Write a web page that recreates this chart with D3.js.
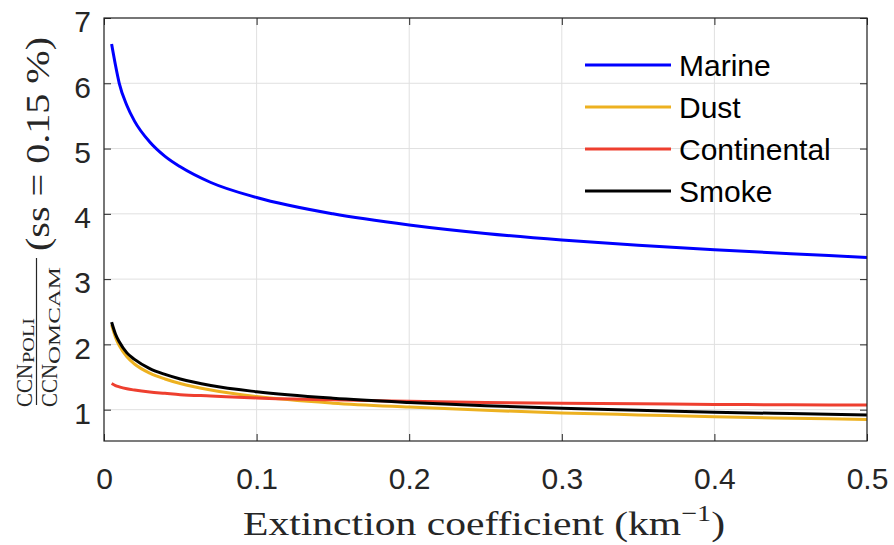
<!DOCTYPE html>
<html><head><meta charset="utf-8">
<script src="https://cdn.jsdelivr.net/npm/d3@7"></script>
<style>body{margin:0;background:#fff}svg{display:block}</style>
</head><body><svg id="c" width="894" height="545"></svg>
<script>
const xValues     = [0.005, 0.0075, 0.01, 0.015, 0.02, 0.03, 0.04, 0.05, 0.07, 0.1, 0.15, 0.2, 0.25, 0.3, 0.35, 0.4, 0.45, 0.5];
const marine      = [6.60, 6.28, 6.00, 5.66, 5.42, 5.10, 4.88, 4.72, 4.48, 4.25, 4.00, 3.83, 3.70, 3.60, 3.52, 3.45, 3.39, 3.33];
const dust        = [2.30, 2.11, 1.98, 1.81, 1.70, 1.56, 1.47, 1.40, 1.30, 1.20, 1.10, 1.04, 0.99, 0.95, 0.92, 0.89, 0.87, 0.85];
const continental = [1.40, 1.37, 1.35, 1.32, 1.30, 1.27, 1.25, 1.23, 1.21, 1.18, 1.15, 1.13, 1.11, 1.10, 1.09, 1.08, 1.075, 1.07];
const smoke       = [2.34, 2.16, 2.04, 1.87, 1.77, 1.63, 1.54, 1.47, 1.37, 1.275, 1.175, 1.11, 1.06, 1.02, 0.99, 0.96, 0.94, 0.92];
const seriesNames  = ["Marine", "Dust", "Continental", "Smoke"];
const seriesColors = ["#0000ff", "#edb120", "#ee3f2f", "#000000"];
const xTicks      = [0, 0.1, 0.2, 0.3, 0.4, 0.5];
const xTickLabels = ["0", "0.1", "0.2", "0.3", "0.4", "0.5"];
const yTicks      = [1, 2, 3, 4, 5, 6, 7];
const yTickLabels = ["1", "2", "3", "4", "5", "6", "7"];

const seriesData = [marine, dust, continental, smoke];
const L = 104, R = 867, T = 18, B = 441;
const svg = d3.select("#c");
const x = d3.scaleLinear().domain([0, 0.5]).range([L, R]);
const y = d3.scaleLinear().domain([0.52, 7]).range([B, T]);
const sans = "'Liberation Sans', Arial, Helvetica, sans-serif";
const serif = "'Liberation Serif', 'Times New Roman', serif";
const axisCol = "#262626";

// grid
const grid = svg.append("g").attr("stroke", "#e0e0e0").attr("stroke-width", 1);
xTicks.forEach(t => grid.append("line").attr("x1", x(t)).attr("x2", x(t)).attr("y1", T).attr("y2", B));
yTicks.forEach(t => grid.append("line").attr("x1", L).attr("x2", R).attr("y1", y(t)).attr("y2", y(t)));

// clip + lines
svg.append("clipPath").attr("id", "clip").append("rect").attr("x", L).attr("y", T).attr("width", R - L).attr("height", B - T);
const line = d3.line().x((d, i) => x(xValues[i])).y(d => y(d)).curve(d3.curveMonotoneX);
const lg = svg.append("g").attr("clip-path", "url(#clip)");
seriesData.forEach((s, k) => {
  lg.append("path").attr("d", line(s)).attr("fill", "none")
    .attr("stroke", seriesColors[k]).attr("stroke-width", 3).attr("stroke-linejoin", "round");
});

// axes
function styleAxis(g) {
  g.select(".domain").remove();
  g.selectAll(".tick line").attr("stroke", axisCol).attr("stroke-width", 1);
  g.selectAll("text").attr("fill", axisCol).attr("font-family", sans).attr("font-size", 30);
}
const xa = svg.append("g").attr("transform", `translate(0,${B})`)
  .call(d3.axisBottom(x).tickValues(xTicks).tickFormat((d, i) => xTickLabels[i]).tickSize(-7).tickPadding(27));
styleAxis(xa);
const ya = svg.append("g").attr("transform", `translate(${L},0)`)
  .call(d3.axisLeft(y).tickValues(yTicks).tickFormat((d, i) => yTickLabels[i]).tickSize(-7).tickPadding(13));
styleAxis(ya);
ya.selectAll("text").attr("dy", "0.46em");
const xt = svg.append("g").attr("transform", `translate(0,${T})`)
  .call(d3.axisTop(x).tickValues(xTicks).tickFormat("").tickSize(-7));
styleAxis(xt);
const yr = svg.append("g").attr("transform", `translate(${R},0)`)
  .call(d3.axisRight(y).tickValues(yTicks).tickFormat("").tickSize(-7));
styleAxis(yr);
svg.append("rect").attr("x", L).attr("y", T).attr("width", R - L).attr("height", B - T)
  .attr("fill", "none").attr("stroke", axisCol).attr("stroke-width", 1.2);

// legend
const legY = [65, 107, 149, 191];
seriesNames.forEach((n, k) => {
  svg.append("line").attr("x1", 585).attr("x2", 671).attr("y1", legY[k]).attr("y2", legY[k])
    .attr("stroke", seriesColors[k]).attr("stroke-width", 3);
  svg.append("text").attr("x", 679).attr("y", legY[k] + 11).attr("font-family", sans)
    .attr("font-size", 30).attr("fill", "#000").text(n);
});

// x label
const xl = svg.append("text").attr("x", 243).attr("y", 535).attr("font-family", serif)
  .attr("font-size", 34).attr("fill", axisCol);
xl.append("tspan").text("Extinction coefficient (km");
xl.append("tspan").attr("font-size", 23).attr("dy", -14).text("\u22121");
xl.append("tspan").attr("dy", 14).text(")");
xl.attr("textLength", 482).attr("lengthAdjust", "spacingAndGlyphs");

// y label (rotated)
const yl = svg.append("g").attr("transform", "rotate(-90)").attr("font-family", serif).attr("fill", axisCol);
function t(txt, sy, sx, fs, len) {
  return yl.append("text").attr("x", -sy).attr("y", sx).attr("font-size", fs).attr("fill", axisCol)
    .attr("textLength", len).attr("lengthAdjust", "spacingAndGlyphs").text(txt);
}
t("CCN", 407, 32, 24, 43);
t("POLI", 363, 34, 16, 45);
t("CCN", 407, 57, 24, 43);
t("OMCAM", 364, 60, 16, 97);
yl.append("line").attr("x1", -405).attr("x2", -258).attr("y1", 36.5).attr("y2", 36.5)
  .attr("stroke", axisCol).attr("stroke-width", 1.2);
t("(ss = 0.15 %)", 251, 49, 34, 214);
</script></body></html>
